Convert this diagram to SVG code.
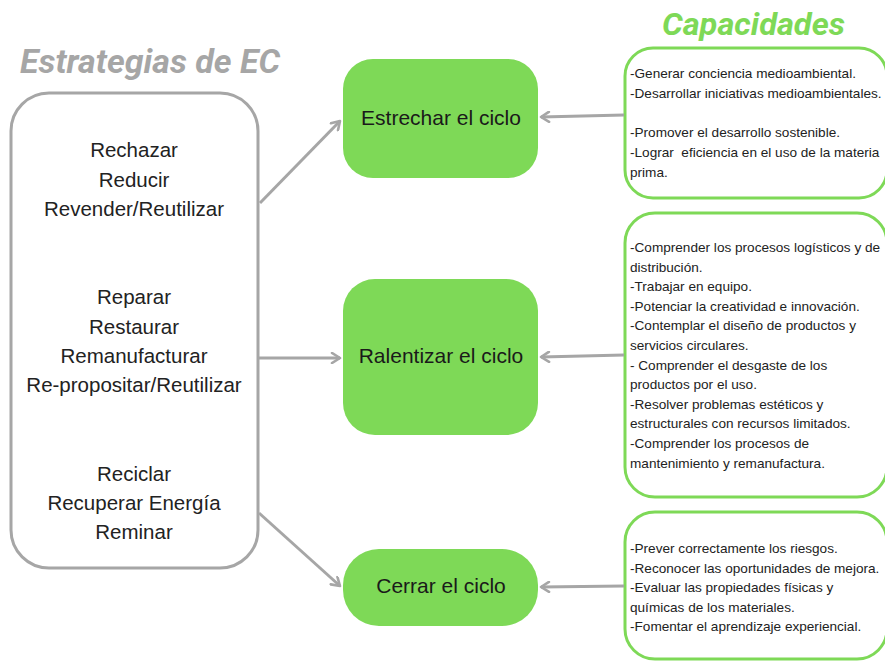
<svg xmlns="http://www.w3.org/2000/svg" width="885" height="661" viewBox="0 0 885 661">
<style>
.title{font-family:"Roboto","Liberation Sans",sans-serif;font-weight:bold;font-style:italic;}
.strat{font-family:"Liberation Sans","Roboto",sans-serif;font-size:20.5px;fill:#222;text-anchor:middle;}
.node{font-family:"Liberation Sans","Roboto",sans-serif;font-size:21px;fill:#1a1a1a;text-anchor:middle;}
.cap{font-family:"Liberation Sans","Roboto",sans-serif;font-size:13.6px;fill:#222;white-space:pre;}
.gbox{fill:#7ed957;}
.obox{fill:#fff;stroke:#7ed957;stroke-width:3;}
.lbox{fill:#fff;stroke:#a6a6a6;stroke-width:3;}
.conn{stroke:#a6a6a6;stroke-width:3;fill:none;marker-end:url(#arr);}
</style>
<defs>
<marker id="arr" viewBox="0 0 12 12" markerWidth="12" markerHeight="12" refX="10" refY="6" orient="auto" markerUnits="userSpaceOnUse">
<path d="M2,1 L10,6 L2,11" fill="none" stroke="#a6a6a6" stroke-width="2.6" stroke-linecap="round" stroke-linejoin="round"/>
</marker>
</defs>
<rect width="885" height="661" fill="#fff"/>

<text class="title" x="20" y="73" font-size="33" fill="#a6a6a6" textLength="260" lengthAdjust="spacingAndGlyphs">Estrategias de EC</text>
<text class="title" x="662" y="35" font-size="31" fill="#7ed957" textLength="183" lengthAdjust="spacingAndGlyphs">Capacidades</text>

<g id="estrategias">
<rect class="lbox" x="11" y="93" width="247" height="475" rx="38"/>
<text class="strat" x="134" y="157">Rechazar</text>
<text class="strat" x="134" y="187">Reducir</text>
<text class="strat" x="134" y="216">Revender/Reutilizar</text>
<text class="strat" x="134" y="304">Reparar</text>
<text class="strat" x="134" y="334">Restaurar</text>
<text class="strat" x="134" y="363">Remanufacturar</text>
<text class="strat" x="134" y="392">Re-propositar/Reutilizar</text>
<text class="strat" x="134" y="481">Reciclar</text>
<text class="strat" x="134" y="510">Recuperar Energía</text>
<text class="strat" x="134" y="539">Reminar</text>
</g>

<g id="estrechar">
<rect class="gbox" x="343" y="59" width="195" height="119" rx="30"/>
<text class="node" x="441" y="125">Estrechar el ciclo</text>
</g>
<g id="ralentizar">
<rect class="gbox" x="343" y="279" width="195" height="156" rx="32"/>
<text class="node" x="441" y="363">Ralentizar el ciclo</text>
</g>
<g id="cerrar">
<rect class="gbox" x="343" y="549" width="195" height="77" rx="36"/>
<text class="node" x="441" y="593">Cerrar el ciclo</text>
</g>

<g id="cap1">
<rect class="obox" x="625" y="48" width="262" height="150" rx="28"/>
<text class="cap" x="630" y="78">-Generar conciencia medioambiental.</text>
<text class="cap" x="630" y="98">-Desarrollar iniciativas medioambientales.</text>
<text class="cap" x="630" y="137">-Promover el desarrollo sostenible.</text>
<text class="cap" x="630" y="157">-Lograr&#160; eficiencia en el uso de la materia</text>
<text class="cap" x="630" y="177">prima.</text>
</g>
<g id="cap2">
<rect class="obox" x="625" y="213" width="262" height="284" rx="30"/>
<text class="cap" x="630" y="252">-Comprender los procesos logísticos y de</text>
<text class="cap" x="630" y="271.6">distribución.</text>
<text class="cap" x="630" y="291.2">-Trabajar en equipo.</text>
<text class="cap" x="630" y="310.8">-Potenciar la creatividad e innovación.</text>
<text class="cap" x="630" y="330.4">-Contemplar el diseño de productos y</text>
<text class="cap" x="630" y="350">servicios circulares.</text>
<text class="cap" x="630" y="369.6">- Comprender el desgaste de los</text>
<text class="cap" x="630" y="389.2">productos por el uso.</text>
<text class="cap" x="630" y="408.8">-Resolver problemas estéticos y</text>
<text class="cap" x="630" y="428.4">estructurales con recursos limitados.</text>
<text class="cap" x="630" y="448">-Comprender los procesos de</text>
<text class="cap" x="630" y="467.6">mantenimiento y remanufactura.</text>
</g>
<g id="cap3">
<rect class="obox" x="625" y="512" width="262" height="147" rx="30"/>
<text class="cap" x="630" y="553">-Prever correctamente los riesgos.</text>
<text class="cap" x="630" y="572.5">-Reconocer las oportunidades de mejora.</text>
<text class="cap" x="630" y="592">-Evaluar las propiedades físicas y</text>
<text class="cap" x="630" y="611.5">químicas de los materiales.</text>
<text class="cap" x="630" y="631">-Fomentar el aprendizaje experiencial.</text>
</g>

<g id="connectors">
<line class="conn" x1="260" y1="203" x2="340" y2="121"/>
<line class="conn" x1="259" y1="358" x2="340" y2="358"/>
<line class="conn" x1="259" y1="513" x2="340" y2="586"/>
<line class="conn" x1="624" y1="115" x2="541" y2="117"/>
<line class="conn" x1="624" y1="355" x2="541" y2="357"/>
<line class="conn" x1="624" y1="586" x2="541" y2="587"/>
</g>
</svg>
